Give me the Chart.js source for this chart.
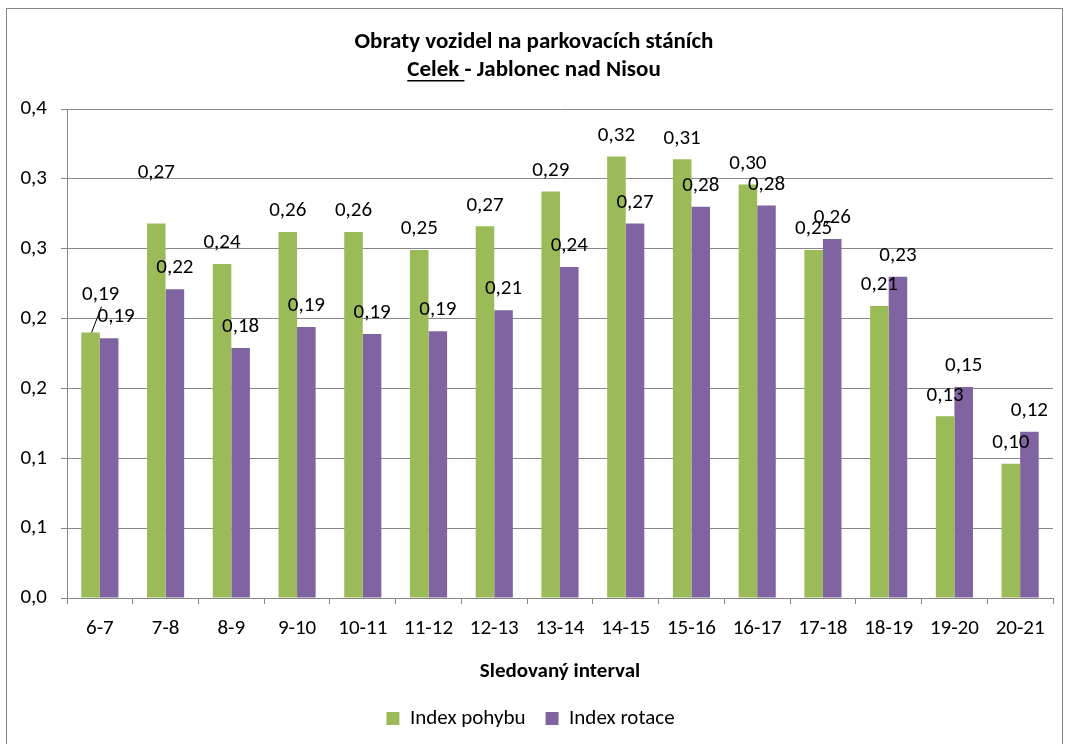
<!DOCTYPE html>
<html>
<head>
<meta charset="utf-8">
<script src="https://cdn.jsdelivr.net/npm/chart.js@4.4.1/dist/chart.umd.min.js"></script>
<style>
  html, body { margin: 0; padding: 0; background: #fff; }
  #wrap { position: absolute; left: 0; top: 0; width: 1068px; height: 744px; }
</style>
</head>
<body>
<div id="wrap"><canvas id="chartObraty" width="1068" height="744"></canvas></div>
<script>
// Data
const intervaly = ["6-7", "7-8", "8-9", "9-10", "10-11", "11-12", "12-13", "13-14", "14-15", "15-16", "16-17", "17-18", "18-19", "19-20", "20-21"];
const indexPohybu = [0.190, 0.268, 0.239, 0.262, 0.262, 0.249, 0.266, 0.291, 0.316, 0.314, 0.296, 0.249, 0.209, 0.130, 0.096];
const indexRotace = [0.186, 0.221, 0.179, 0.194, 0.189, 0.191, 0.206, 0.237, 0.268, 0.280, 0.281, 0.257, 0.230, 0.151, 0.119];
const yTickLabels = ["0,0", "0,1", "0,1", "0,2", "0,2", "0,3", "0,3", "0,4"];

const FONT = "Carlito, Calibri, Lato, 'Open Sans', sans-serif";
const GREEN = "#9BBB59";
const PURPLE = "#8064A2";
const GRID = "#878787";

// posunuté popisky (jako v Excelu) – index datasetu, index bodu, dx, dy
const posunyPopisku = [
  { ds: 0, i: 0, dx: 10, dy: -17, leader: true },
  { ds: 0, i: 1, dx: 0, dy: -30 },
  { ds: 1, i: 0, dx: 7, dy: 0 }
];

const fmt = v => v.toFixed(2).replace(".", ",");

// ramecek + titulek
const pozadiPlugin = {
  id: "pozadi",
  beforeDraw(chart) {
    const ctx = chart.ctx;
    ctx.save();
    ctx.strokeStyle = GRID;
    ctx.lineWidth = 1;
    ctx.strokeRect(6.5, 8.5, 1056, 760);

    ctx.fillStyle = "#000";
    ctx.font = "bold 23px " + FONT;
    ctx.textBaseline = "middle";
    ctx.textAlign = "center";
    ctx.fillText("Obraty vozidel na parkovacích stáních", 534, 42);

    const a = "Celek ", b = "- Jablonec nad Nisou";
    const wa = ctx.measureText(a).width;
    const wb = ctx.measureText(b).width;
    const x0 = 534 - (wa + wb) / 2;
    ctx.textAlign = "left";
    ctx.fillText(a, x0, 70);
    ctx.fillText(b, x0 + wa, 70);
    ctx.fillRect(x0, 80, wa, 1.5);
    ctx.restore();
  }
};

const popiskyPlugin = {
  id: "popisky",
  afterDatasetsDraw(chart) {
    const ctx = chart.ctx;
    ctx.save();
    ctx.font = "21px " + FONT;
    ctx.fillStyle = "#000";
    ctx.textAlign = "center";
    ctx.textBaseline = "middle";
    chart.data.datasets.forEach((ds, di) => {
      chart.getDatasetMeta(di).data.forEach((el, i) => {
        const p = posunyPopisku.find(s => s.ds === di && s.i === i);
        const dx = p ? p.dx : 0;
        const dy = p ? p.dy : 0;
        const x = el.x + dx;
        const y = el.y - 21 + dy;
        ctx.fillText(fmt(ds.data[i]), x, y);
        if (p && p.leader) {
          ctx.strokeStyle = "#000";
          ctx.lineWidth = 1;
          ctx.beginPath();
          ctx.moveTo(el.x + 1, el.y);
          ctx.lineTo(el.x + 11, y + 12);
          ctx.stroke();
        }
      });
    });
    ctx.restore();
  }
};

const ctx = document.getElementById("chartObraty").getContext("2d");
new Chart(ctx, {
  type: "bar",
  data: {
    labels: intervaly,
    datasets: [
      { label: "Index pohybu", data: indexPohybu, backgroundColor: GREEN },
      { label: "Index rotace", data: indexRotace, backgroundColor: PURPLE }
    ]
  },
  options: {
    responsive: false,
    animation: false,
    layout: { padding: { top: 109, left: 8, right: 15, bottom: 5 } },
    datasets: { bar: { categoryPercentage: 0.565, barPercentage: 1 } },
    scales: {
      x: {
        afterFit: s => { s.height = 90; },
        grid: { drawOnChartArea: false, color: GRID, tickLength: 6, offset: true },
        border: { color: GRID },
        ticks: { color: "#000", padding: 12, font: { family: FONT, size: 21 } },
        title: {
          display: true,
          text: "Sledovaný interval",
          color: "#000",
          font: { family: FONT, size: 21, weight: "bold" },
          padding: { top: 0, bottom: 4 }
        }
      },
      y: {
        min: 0,
        max: 0.35,
        afterFit: s => { s.width = 59; },
        grid: { color: GRID, tickLength: 6 },
        border: { color: GRID },
        ticks: {
          stepSize: 0.05,
          color: "#000",
          padding: 14,
          font: { family: FONT, size: 21 },
          callback: (v, i) => yTickLabels[i]
        }
      }
    },
    plugins: {
      legend: {
        position: "bottom",
        labels: {
          color: "#000",
          boxWidth: 13,
          boxHeight: 13,
          padding: 20,
          font: { family: FONT, size: 21 }
        }
      },
      tooltip: { enabled: false }
    }
  },
  plugins: [pozadiPlugin, popiskyPlugin]
});
</script>
</body>
</html>
